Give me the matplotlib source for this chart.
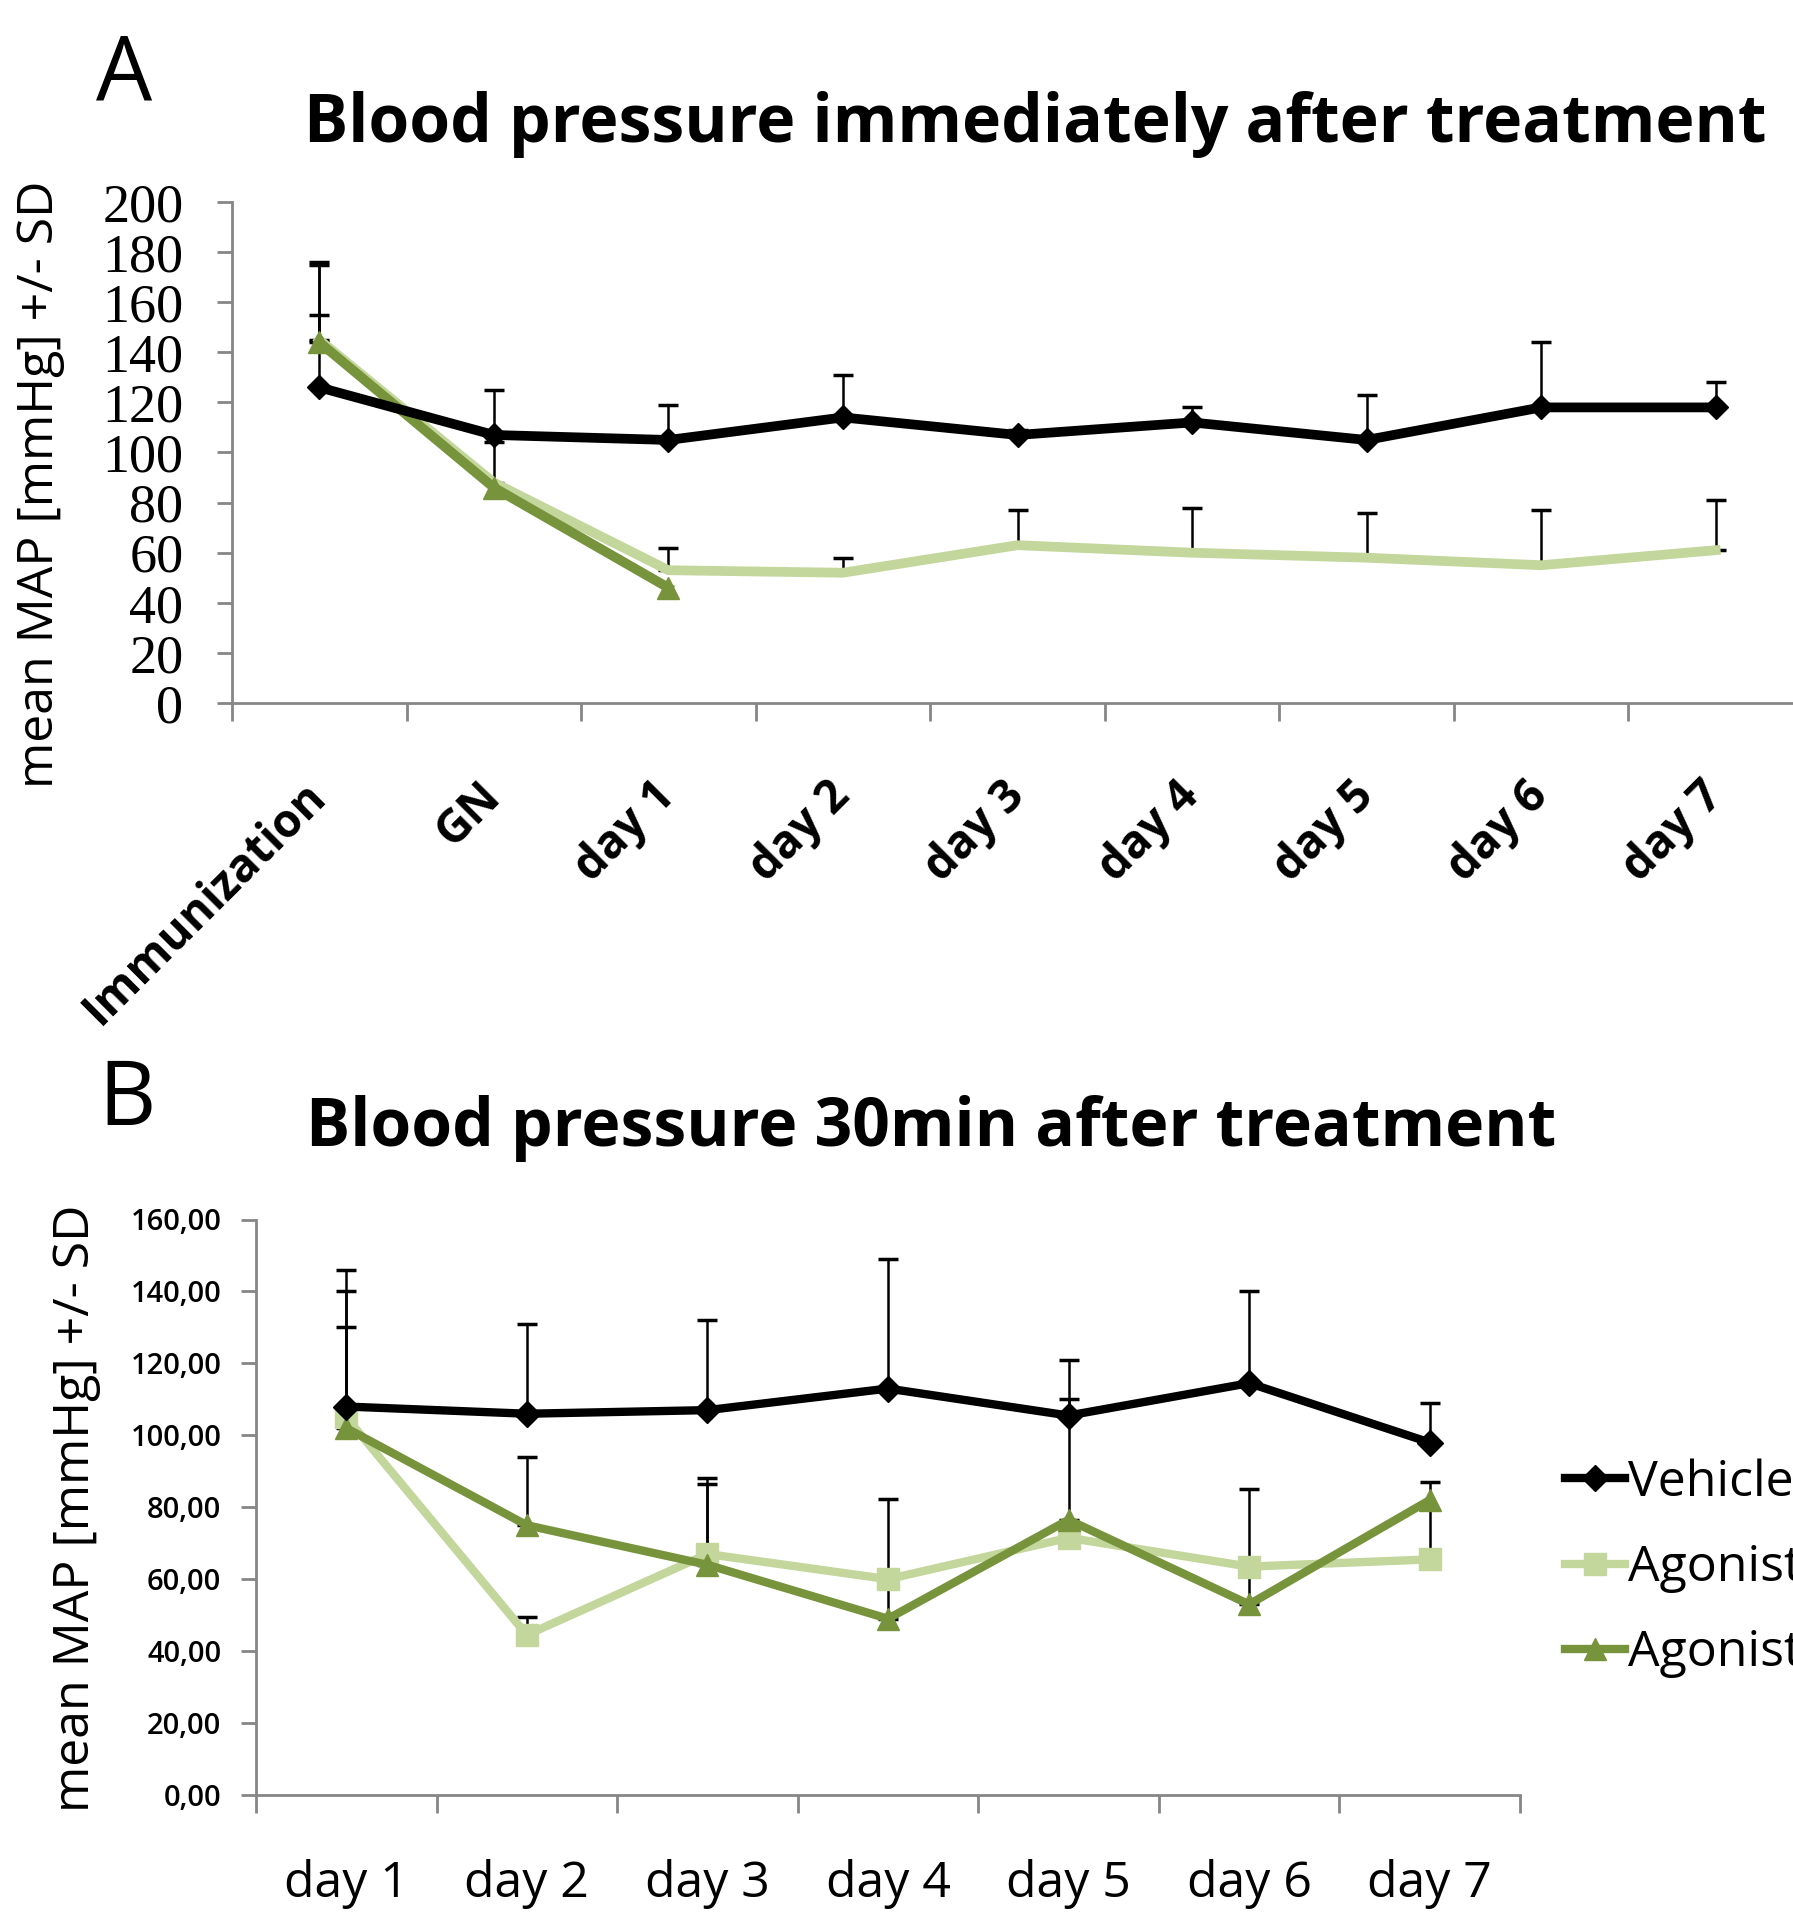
import numpy as np
import matplotlib.pyplot as plt
from matplotlib.ticker import FixedLocator

# panel A data (immediately after treatment)
cats_a = ['Immunization', 'GN', 'day 1', 'day 2', 'day 3', 'day 4', 'day 5', 'day 6', 'day 7']
vehicle_a = [126, 107, 105, 114, 107, 112, 105, 118, 118]
vehicle_a_sd = [29, 18, 14, 17, 2, 6, 18, 26, 10]
agonist1_a = [145, 88, 53, 52, 63, 60, 58, 55, 61]
agonist1_a_sd = [31, 16, 9, 6, 14, 18, 18, 22, 20]
agonist2_a = [144, 86, 46, np.nan, np.nan, np.nan, np.nan, np.nan, np.nan]
agonist2_a_sd = [31, np.nan, np.nan, np.nan, np.nan, np.nan, np.nan, np.nan, np.nan]

# panel B data (30 min after treatment)
cats_b = ['day 1', 'day 2', 'day 3', 'day 4', 'day 5', 'day 6', 'day 7']
vehicle_b = [108, 106, 107, 113, 105.5, 114.5, 98]
vehicle_b_sd = [38, 25, 25, 36, 15.5, 25.5, 11]
agonist1_b = [105, 44.5, 67, 60, 71.5, 63.5, 65.5]
agonist1_b_sd = [35, 5, 21, np.nan, np.nan, np.nan, 21.4]
agonist2_b = [102, 75, 64, 49, 76.5, 53, 82]
agonist2_b_sd = [28, 19, 22.6, 33.4, 33.7, 32, np.nan]

labels = ['Vehicle', 'Agonist', 'Agonist']
colors = ['black', '#C3D69B', '#77933C']
gray = '#868686'
sans = 'Open Sans'

fig = plt.figure(figsize=(17.93, 19.21), dpi=100)


def upper_err(ax, x, y, sd, z):
    y = np.array(y, dtype=float)
    sd = np.array(sd, dtype=float)
    ok = ~np.isnan(sd) & ~np.isnan(y)
    x = np.asarray(x)[ok]
    ax.errorbar(x, y[ok], yerr=[np.zeros(ok.sum()), sd[ok]], fmt='none',
                ecolor='black', elinewidth=1.8, capsize=7, capthick=2.5, zorder=z)


def style_axes(ax, n):
    for s in ['top', 'right']:
        ax.spines[s].set_visible(False)
    for s in ['left', 'bottom']:
        ax.spines[s].set_color(gray)
        ax.spines[s].set_linewidth(2)
    ax.set_xlim(-0.5, n - 0.5)
    ax.xaxis.set_minor_locator(FixedLocator(np.arange(n + 1) - 0.5))
    ax.tick_params(axis='x', which='major', length=0)
    ax.tick_params(axis='x', which='minor', length=13, width=2, color=gray)
    ax.tick_params(axis='y', length=11, width=2, color=gray)


# ---- panel A ----
ax1 = fig.add_axes([232 / 1793, 1 - 703 / 1921, 1571 / 1793, 501 / 1921])
xa = np.arange(len(cats_a))
upper_err(ax1, xa, vehicle_a, vehicle_a_sd, 1)
upper_err(ax1, xa, agonist1_a, agonist1_a_sd, 1)
upper_err(ax1, xa, agonist2_a, agonist2_a_sd, 1)
ax1.plot(xa, agonist1_a, color=colors[1], lw=7, zorder=3)
ax1.plot(xa, agonist2_a, color=colors[2], lw=7, marker='^', ms=16, zorder=4)
ax1.plot(xa, vehicle_a, color=colors[0], lw=7, marker='D', ms=12, zorder=5)
style_axes(ax1, len(cats_a))
ax1.set_ylim(0, 200)
ax1.set_yticks(range(0, 201, 20))
ax1.set_yticklabels([str(v) for v in range(0, 201, 20)], family='Liberation Serif', fontsize=39)
ax1.tick_params(axis='y', pad=24)
ax1.set_xticks(xa)
ax1.set_xticklabels(cats_a, rotation=45, ha='right', va='center', rotation_mode='anchor',
                    family=sans, fontweight='bold', fontsize=33)
ax1.tick_params(axis='x', which='major', pad=62)

# ---- panel B ----
ax2 = fig.add_axes([256 / 1793, 1 - 1795 / 1921, 1264 / 1793, 575.5 / 1921])
xb = np.arange(len(cats_b))
upper_err(ax2, xb, vehicle_b, vehicle_b_sd, 1)
upper_err(ax2, xb, agonist1_b, agonist1_b_sd, 1)
upper_err(ax2, xb, agonist2_b, agonist2_b_sd, 1)
ax2.plot(xb, agonist1_b, color=colors[1], lw=6, marker='s', ms=16, label=labels[1], zorder=3)
ax2.plot(xb, agonist2_b, color=colors[2], lw=6, marker='^', ms=16, label=labels[2], zorder=4)
ax2.plot(xb, vehicle_b, color=colors[0], lw=6, marker='D', ms=13, label=labels[0], zorder=5)
style_axes(ax2, len(cats_b))
ax2.set_ylim(0, 160)
ax2.set_yticks(range(0, 161, 20))
ax2.set_yticklabels([f'{v},00' for v in range(0, 161, 20)], family=sans, fontsize=21,
                    fontweight='semibold')
ax2.tick_params(axis='y', pad=14)
ax2.set_xticks(xb)
ax2.set_xticklabels(cats_b, family=sans, fontsize=36)
ax2.tick_params(axis='x', which='major', pad=46)

h, l = ax2.get_legend_handles_labels()
order = [2, 0, 1]
ax2.legend([h[i] for i in order], [l[i] for i in order], loc='upper left',
           bbox_to_anchor=(1565 / 1793, 1 - 1458 / 1921), bbox_transform=fig.transFigure,
           frameon=False, handlelength=1.2, handletextpad=0.05,
           labelspacing=0.72, borderpad=0, borderaxespad=0, prop={'family': sans, 'size': 36})

# titles, panel letters, y labels
fig.text(304 / 1793, 1 - 125 / 1921, 'Blood pressure immediately after treatment', family=sans,
         fontweight='bold', fontsize=47.5, ha='left', va='center')
fig.text(306 / 1793, 1 - 1129 / 1921, 'Blood pressure 30min after treatment', family=sans,
         fontweight='bold', fontsize=47.5, ha='left', va='center')
fig.text(96 / 1793, 1 - 76 / 1921, 'A', family=sans, fontsize=64, ha='left', va='center')
fig.text(98 / 1793, 1 - 1102 / 1921, 'B', family=sans, fontsize=64, ha='left', va='center')
fig.text(40 / 1793, 1 - 484 / 1921, 'mean MAP [mmHg] +/- SD', family=sans, fontsize=36,
         rotation=90, ha='center', va='center')
fig.text(76 / 1793, 1 - 1508 / 1921, 'mean MAP [mmHg] +/- SD', family=sans, fontsize=36,
         rotation=90, ha='center', va='center')

fig.savefig('out.png', dpi=100)
